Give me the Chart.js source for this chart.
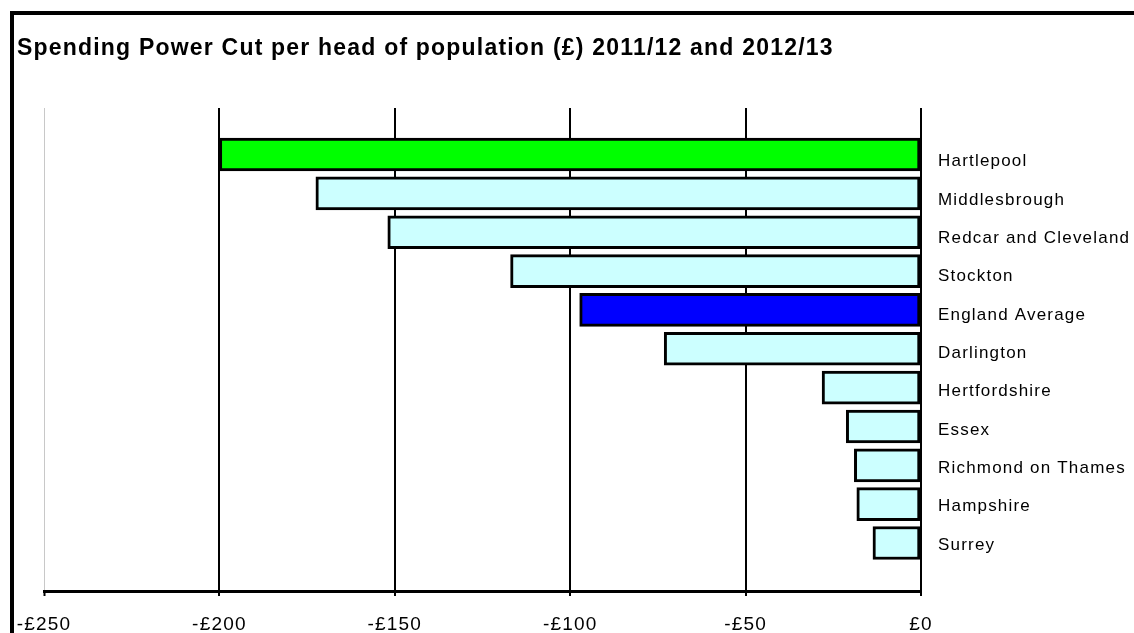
<!DOCTYPE html>
<html>
<head>
<meta charset="utf-8">
<script src="https://cdn.jsdelivr.net/npm/chart.js@4"></script>
<style>
  html, body { margin: 0; padding: 0; width: 1134px; height: 633px; overflow: hidden; background: #fff; }
  #frame { position: absolute; left: 10px; top: 11px; width: 2000px; height: 2000px; border: 4px solid #000; box-sizing: border-box; }
  #chart { position: absolute; left: 0; top: 0; }
</style>
</head>
<body>
<div id="frame"></div>
<canvas id="chart" width="1134" height="633"></canvas>
<script>
// Spending power cut per head of population (£), 2011/12 to 2012/13
const areas = [
  'Hartlepool', 'Middlesbrough', 'Redcar and Cleveland', 'Stockton', 'England Average',
  'Darlington', 'Hertfordshire', 'Essex', 'Richmond on Thames', 'Hampshire', 'Surrey'
];
const cutPerHead = [-200, -172.5, -152, -117, -97.3, -73.2, -28.2, -21.3, -19, -18.3, -13.7];
const axisTicks = [-250, -200, -150, -100, -50, 0];
const axisTickLabels = ['-£250', '-£200', '-£150', '-£100', '-£50', '£0'];

const FONT = "'Liberation Sans', Arial, sans-serif";

function barColour(name) {
  if (name === 'Hartlepool') return '#00ff00';
  if (name === 'England Average') return '#0000ff';
  return '#ccffff';
}

// Slightly wider tracking for all chart text
const textSpacing = {
  id: 'textSpacing',
  beforeLayout(chart) { chart.ctx.letterSpacing = '1.2px'; },
  beforeDraw(chart) { chart.ctx.letterSpacing = '1.2px'; },
  afterDraw(chart) { chart.ctx.letterSpacing = '0px'; }
};

new Chart(document.getElementById('chart'), {
  type: 'bar',
  data: {
    datasets: [{
      data: areas.map((a, i) => ({ x: cutPerHead[i], y: i })),
      backgroundColor: areas.map(barColour),
      borderColor: '#000',
      borderWidth: 3,
      borderSkipped: false,
      barThickness: 33,
      xAxisID: 'x',
      yAxisID: 'y'
    }]
  },
  options: {
    indexAxis: 'y',
    responsive: false,
    animation: false,
    events: [],
    layout: { padding: { left: 17, right: 0, top: 0, bottom: 0 } },
    plugins: {
      legend: { display: false },
      tooltip: { enabled: false },
      title: {
        display: true,
        text: 'Spending Power Cut per head of population (£) 2011/12 and 2012/13',
        align: 'start',
        color: '#000',
        font: { family: FONT, size: 23, weight: 'bold' },
        padding: { top: 35, bottom: 45.4 }
      }
    },
    scales: {
      x: {
        type: 'linear',
        position: 'bottom',
        min: -250,
        max: 0,
        afterBuildTicks(s) { s.ticks = axisTicks.map(v => ({ value: v })); },
        afterFit(s) { s.height = 42; s.paddingLeft = 44; },
        ticks: {
          callback: v => axisTickLabels[axisTicks.indexOf(v)],
          color: '#000',
          font: { family: FONT, size: 19 },
          padding: 17,
          maxRotation: 0,
          autoSkip: false
        },
        grid: {
          color: c => (c.tick && c.tick.value === -250 ? '#c8c8c8' : '#000'),
          lineWidth: c => (c.tick && c.tick.value === -250 ? 1 : 2),
          tickColor: '#000',
          tickWidth: 2,
          tickLength: 5
        },
        border: { display: true, color: '#000', width: 3 }
      },
      y: {
        type: 'linear',
        display: false,
        reverse: true,
        offset: false,
        min: -1.197,
        max: 11.235
      },
      yl: {
        type: 'linear',
        position: 'right',
        reverse: true,
        offset: false,
        min: -1.395,
        max: 11.199,
        afterBuildTicks(s) { s.ticks = areas.map((a, i) => ({ value: i })); },
        afterFit(s) { s.width = 213; },
        grid: { display: false, drawTicks: false, offset: false },
        border: { display: false },
        ticks: {
          callback: v => areas[v] || '',
          color: '#000',
          font: { family: FONT, size: 17 },
          padding: 17,
          autoSkip: false
        }
      }
    }
  },
  plugins: [textSpacing]
});
</script>
</body>
</html>
